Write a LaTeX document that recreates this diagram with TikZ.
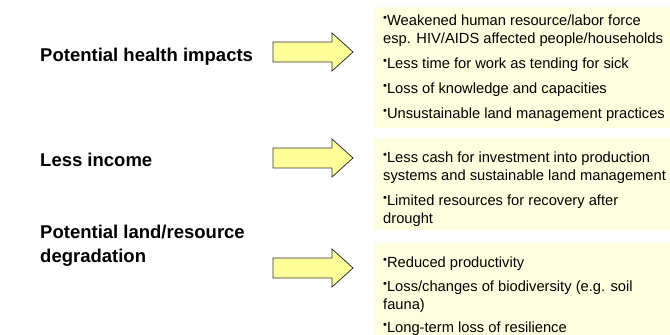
\documentclass[tikz,border=0pt]{standalone}
\usepackage{fontspec}
\setmainfont{Liberation Sans}
\definecolor{boxcream}{HTML}{FFFFE0}
\definecolor{arrowyellow}{HTML}{FFFF99}
\definecolor{arrowline}{HTML}{333333}
\tikzset{
  x=1pt, y=-1pt,
  cream/.style={fill=boxcream, draw=none},
  blockarrow/.style={fill=arrowyellow, draw=arrowline, line width=0.8pt, line join=miter},
  title/.style={anchor=base west, inner sep=0pt, font=\fontsize{18.5}{22}\selectfont\bfseries},
  item/.style={anchor=base west, inner sep=0pt, font=\fontsize{14.7}{18}\selectfont}
}
\newcommand{\bul}{{\fontsize{11}{11}\selectfont\raisebox{0.55ex}{•}}}
\begin{document}
\begin{tikzpicture}
\useasboundingbox (0,0) rectangle (670,335);
\fill[white] (0,0) rectangle (670,335);
% boxes
\path[cream] (374,7) rectangle (670,128);
\path[cream] (374,138) rectangle (670,230);
\path[cream] (374,243) rectangle (670,335);
% arrows
\foreach \c in {52,158,268}{
  \draw[blockarrow] (273,\c-10) -- (332,\c-10) -- (332,\c-19) -- (353,\c) -- (332,\c+19) -- (332,\c+10) -- (273,\c+10) -- cycle;
}
% titles
\node[title] (t1) at (40,61) {Potential health impacts};
\node[title] (t2) at (40,166) {Less income};
\node[title] (t3a) at (40,238) {Potential land/resource};
\node[title] (t3b) at (40,262) {degradation};
% box 1
\node[item] (a1) at (383,25) {\bul Weakened human resource/labor force};
\node[item] (a1b) at (383,43) {esp. HIV/AIDS affected people/households};
\node[item] (a2) at (383,68) {\bul Less time for work as tending for sick};
\node[item] (a3) at (383,93) {\bul Loss of knowledge and capacities};
\node[item] (a4) at (383,118) {\bul Unsustainable land management practices};
% box 2
\node[item] (b1) at (383,162) {\bul Less cash for investment into production};
\node[item] (b1b) at (383,180) {systems and sustainable land management};
\node[item] (b2) at (383,205) {\bul Limited resources for recovery after};
\node[item] (b2b) at (383,223) {drought};
% box 3
\node[item] (c1) at (383,267) {\bul Reduced productivity};
\node[item] (c2) at (383,291) {\bul Loss/changes of biodiversity (e.g. soil};
\node[item] (c2b) at (383,309) {fauna)};
\node[item] (c3) at (383,332) {\bul Long-term loss of resilience};
\end{tikzpicture}
\end{document}
